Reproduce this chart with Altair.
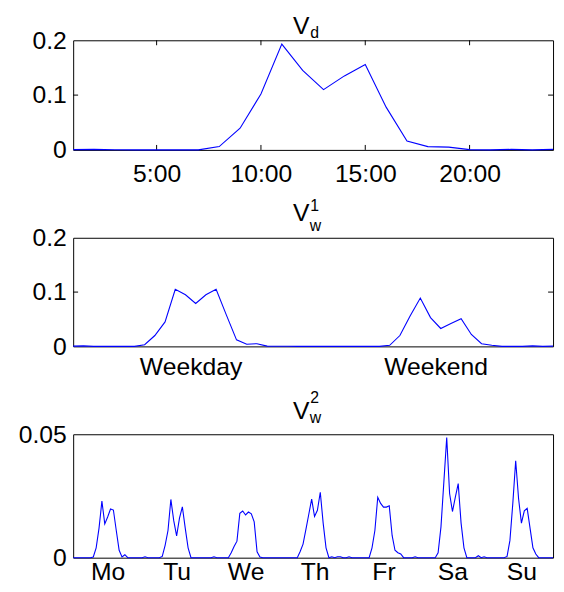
import altair as alt
import pandas as pd

FONT = "Liberation Sans"
BLUE = "#0000ff"
W = 486

# ---- panel 1: daily profile V_d ----
hours = list(range(1, 25))
v_d = [0.0005, 0.001, 0.0003, 0, 0, 0, 0, 0.006, 0.0395, 0.102, 0.193, 0.145,
       0.110, 0.135, 0.156, 0.078, 0.016, 0.006, 0.005, 0.0005, 0, 0.001, 0, 0.001]
hour_tick_pos = [5, 10, 15, 20]
hour_tick_labels = ["5:00", "10:00", "15:00", "20:00"]

# ---- panel 2: weekday / weekend profile V_w^1 ----
weekday_part = [0.0005, 0.001, 0, 0, 0, 0, 0, 0.003, 0.02, 0.045, 0.105, 0.095,
                0.079, 0.095, 0.105, 0.058, 0.012, 0.004, 0.005, 0.0005, 0.0003, 0.0003, 0, 0.0003]
weekend_part = [0, 0, 0, 0, 0, 0, 0, 0.002, 0.02, 0.056, 0.089, 0.053,
                0.033, 0.042, 0.051, 0.022, 0.005, 0.002, 0, 0, 0, 0.001, 0, 0.0005]
wk_tick_pos = [12.5, 36.5]
wk_tick_labels = ["Weekday", "Weekend"]

# ---- panel 3: weekly profile V_w^2 (one list per day, 24 hours each) ----
mo = [0, 0, 0, 0, 0, 0, 0, 0.0003, 0.004, 0.012, 0.0229, 0.0137, 0.0165, 0.0197, 0.0193, 0.011, 0.003, 0.0003, 0.0012, 0, 0, 0, 0, 0]
tu = [0, 0.0004, 0, 0, 0, 0, 0, 0.0005, 0.005, 0.011, 0.0236, 0.015, 0.0088, 0.016, 0.0206, 0.012, 0.004, 0, 0, 0, 0, 0, 0, 0]
we = [0, 0.0004, 0, 0, 0, 0, 0, 0.002, 0.0045, 0.0067, 0.018, 0.0189, 0.0173, 0.0185, 0.0178, 0.0145, 0.0024, 0.0003, 0, 0, 0, 0, 0, 0]
th = [0, 0, 0, 0, 0, 0, 0, 0.0025, 0.0055, 0.0115, 0.0176, 0.0237, 0.0167, 0.0192, 0.0265, 0.014, 0.004, 0, 0.0004, 0, 0.0004, 0.0004, 0, 0]
fr = [0.0004, 0, 0, 0, 0, 0, 0, 0, 0.004, 0.011, 0.0245, 0.022, 0.0205, 0.0205, 0.021, 0.009, 0.003, 0.002, 0.0015, 0, 0, 0, 0, 0.0004]
sa = [0, 0, 0, 0, 0, 0, 0, 0.002, 0.0125, 0.0306, 0.0487, 0.026, 0.0187, 0.0245, 0.030, 0.014, 0.004, 0, 0, 0, 0, 0.0008, 0, 0.0004]
su = [0, 0, 0, 0, 0, 0, 0, 0.0005, 0.007, 0.022, 0.0393, 0.024, 0.014, 0.019, 0.020, 0.012, 0.004, 0.0015, 0, 0, 0, 0, 0, 0]
day_tick_pos = [13, 37, 61, 85, 109, 133, 157]
day_tick_labels = ["Mo", "Tu", "We", "Th", "Fr", "Sa", "Su"]


def label_expr(pos, labels):
    items = ",".join("'%s':'%s'" % (p, l) for p, l in zip(pos, labels))
    return "{%s}[datum.value]" % items


def make_panel(xs, ys, xdomain, ydomain, yvals, xpos, xlabels, height,
               xpad, title_sub, title_sup, layout, xticks_inner, yticks_inner):
    df = pd.DataFrame({"x": xs, "y": ys})
    xenc = alt.X("x:Q", scale=alt.Scale(domain=xdomain, nice=False, zero=False),
                 axis=alt.Axis(values=xpos, labelExpr=label_expr(xpos, xlabels),
                               ticks=False, tickSize=0, domain=False, grid=False,
                               labelPadding=xpad, labelFontSize=25, labelFont=FONT,
                               labelColor="black", title=None, labelFlush=False,
                               labelOverlap=False))
    yenc = alt.Y("y:Q", scale=alt.Scale(domain=ydomain, nice=False, zero=False),
                 axis=alt.Axis(values=yvals, format="~g", ticks=False, tickSize=0,
                               domain=False, grid=False, labelPadding=7,
                               labelFontSize=25, labelFont=FONT, labelColor="black",
                               title=None, labelFlush=False, labelOverlap=False))
    layers = []
    if xticks_inner:
        tdf = pd.DataFrame({"x": xpos})
        layers.append(alt.Chart(tdf).mark_rule(color="black", strokeWidth=1).encode(
            x=xenc, y=alt.value(height), y2=alt.value(height - 5)))
        layers.append(alt.Chart(tdf).mark_rule(color="black", strokeWidth=1).encode(
            x=xenc, y=alt.value(0), y2=alt.value(5)))
    if yticks_inner:
        ydf = pd.DataFrame({"y": yticks_inner})
        layers.append(alt.Chart(ydf).mark_rule(color="black", strokeWidth=1).encode(
            y=yenc, x=alt.value(0), x2=alt.value(5)))
        layers.append(alt.Chart(ydf).mark_rule(color="black", strokeWidth=1).encode(
            y=yenc, x=alt.value(W - 5), x2=alt.value(W)))
    layers.append(alt.Chart(df).mark_line(color=BLUE, strokeWidth=1.1).encode(x=xenc, y=yenc))

    one = pd.DataFrame({"t": [0]})
    vx, vy, sx, sy, px, py = layout
    layers.append(alt.Chart(one).mark_text(text="V", font=FONT, fontSize=25, color="black",
                                           align="center", baseline="alphabetic").encode(
        x=alt.value(vx), y=alt.value(vy)))
    if title_sub:
        layers.append(alt.Chart(one).mark_text(text=title_sub, font=FONT, fontSize=16,
                                               color="black", align="left",
                                               baseline="alphabetic").encode(
            x=alt.value(sx), y=alt.value(sy)))
    if title_sup:
        layers.append(alt.Chart(one).mark_text(text=title_sup, font=FONT, fontSize=16,
                                               color="black", align="left",
                                               baseline="alphabetic").encode(
            x=alt.value(px), y=alt.value(py)))
    return alt.layer(*layers).properties(width=W, height=height)


p1 = make_panel(hours, v_d, [1, 24], [0, 0.2], [0, 0.1, 0.2],
                hour_tick_pos, hour_tick_labels, 111, 12, "d", None,
                (231, -6, 240, -2.5, 0, 0), True, [0.1])

week_x = list(range(1, 49))
p2 = make_panel(week_x, weekday_part + weekend_part, [1, 48], [0, 0.2], [0, 0.1, 0.2],
                wk_tick_pos, wk_tick_labels, 110, 8, "w", "1",
                (231, -16.5, 239.5, -6.7, 240, -26.7), False, [0.1])

days = [mo, tu, we, th, fr, sa, su]
week_hours = list(range(1, 169))
week_vals = [v for d in days for v in d]
p3 = make_panel(week_hours, week_vals, [1, 168], [0, 0.05], [0, 0.05],
                day_tick_pos, day_tick_labels, 125, 2, "w", "2",
                (231, -15, 239.5, -11.5, 240, -31.5), False, [])

chart = alt.vconcat(p1, p2, p3, spacing=89, bounds="flush").properties(
    padding={"left": 9, "top": 2, "right": 0, "bottom": 0},
    background="white"
).configure_view(stroke="black", strokeWidth=1)

chart.save("out.html", embed_options={"renderer": "svg", "actions": False})
